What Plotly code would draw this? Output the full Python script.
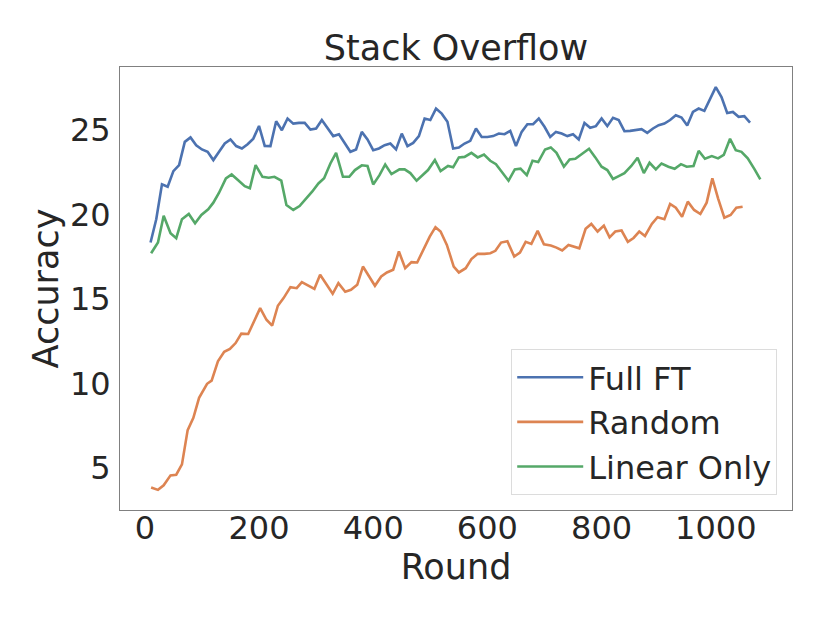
import plotly.graph_objects as go

# ---- data ----
full_rounds = list(range(10, 1061, 10))
full_acc = [18.35, 19.73, 21.8, 21.65, 22.58, 22.93, 24.31, 24.57, 24.11, 23.86,
            23.72, 23.23, 23.72, 24.21, 24.45, 24.06, 23.92, 24.17, 24.5, 25.25,
            24.07, 24.06, 25.53, 25.0, 25.69, 25.39, 25.43, 25.43, 25.04, 25.1,
            25.6, 25.1, 24.65, 24.76, 24.21, 23.72, 23.86, 24.9, 24.45, 23.82,
            23.92, 24.11, 24.21, 23.86, 24.8, 24.06, 24.25, 24.65, 25.69, 25.6,
            26.28, 25.98, 25.5, 23.92, 23.97, 24.21, 24.37, 25.1, 24.6, 24.6,
            24.65, 24.8, 24.76, 24.96, 24.06, 24.9, 25.35, 25.35, 25.69, 25.2,
            24.6, 24.9, 24.8, 24.65, 24.76, 24.45, 25.43, 25.14, 25.24, 25.69,
            25.24, 25.73, 25.6, 24.94, 24.96, 25.0, 25.06, 24.84, 25.1, 25.3,
            25.39, 25.6, 25.88, 25.75, 25.28, 26.08, 26.28, 26.14, 26.8, 27.55,
            26.96, 26.02, 26.08, 25.79, 25.83, 25.45]

random_rounds = [11, 23, 33, 45, 55, 65, 75, 85, 95, 109, 117, 128, 139, 149, 159,
                 169, 181, 191, 202, 213, 223, 233, 243, 255, 266, 275, 286, 297,
                 307, 319, 329, 339, 351, 361, 372, 382, 393, 403, 414, 424, 435,
                 445, 456, 467, 477, 488, 499, 509, 518, 529, 541, 550, 562, 572,
                 583, 595, 605, 614, 624, 635, 647, 657, 667, 677, 688, 699, 711,
                 721, 731, 742, 752, 761, 772, 782, 793, 804, 814, 824, 835, 846,
                 856, 866, 876, 888, 898, 910, 920, 930, 941, 951, 962, 973, 984,
                 994, 1004, 1015, 1026, 1036, 1047]
random_acc = [3.85, 3.71, 3.98, 4.57, 4.61, 5.22, 7.25, 7.98, 9.16, 9.99, 10.18,
              11.32, 11.88, 12.05, 12.4, 12.96, 12.94, 13.69, 14.47, 13.78, 13.43,
              14.61, 15.06, 15.71, 15.65, 16.01, 15.79, 15.61, 16.44, 15.85, 15.32,
              15.95, 15.44, 15.55, 15.85, 16.93, 16.3, 15.79, 16.34, 16.58, 16.74,
              17.82, 16.83, 17.19, 17.17, 17.92, 18.7, 19.26, 19.0, 18.21, 16.93,
              16.58, 16.83, 17.37, 17.68, 17.68, 17.72, 17.86, 18.35, 18.43, 17.52,
              17.76, 18.39, 18.27, 19.04, 18.25, 18.17, 18.05, 17.88, 18.21, 18.11,
              18.01, 19.16, 19.45, 19.0, 19.35, 18.66, 19.0, 19.06, 18.39, 18.62,
              19.0, 18.74, 19.45, 19.85, 19.73, 20.63, 20.41, 19.88, 20.77, 20.28,
              20.04, 20.71, 22.15, 20.97, 19.82, 19.98, 20.41, 20.47]

linear_rounds = [11, 23, 33, 45, 55, 65, 77, 88, 99, 111, 120, 130, 142, 152, 163,
                 175, 184, 194, 206, 217, 227, 239, 248, 260, 271, 283, 293, 304,
                 314, 325, 335, 347, 358, 368, 380, 390, 400, 411, 421, 432, 446,
                 455, 465, 476, 484, 496, 508, 518, 531, 540, 550, 560, 572, 583,
                 594, 605, 615, 627, 637, 648, 658, 669, 679, 689, 701, 711, 721,
                 734, 744, 754, 766, 778, 789, 800, 810, 820, 830, 840, 852, 863,
                 874, 884, 895, 905, 917, 928, 939, 949, 961, 970, 981, 993, 1004,
                 1014, 1025, 1035, 1045, 1056, 1068, 1078]
linear_acc = [17.72, 18.35, 19.94, 18.9, 18.61, 19.73, 20.04, 19.49, 19.98, 20.32,
              20.71, 21.3, 22.15, 22.38, 22.05, 21.69, 21.56, 22.93, 22.24, 22.19,
              22.24, 22.01, 20.57, 20.28, 20.51, 20.97, 21.36, 21.85, 22.15, 23.03,
              23.66, 22.24, 22.24, 22.64, 22.92, 22.88, 21.79, 22.34, 22.97, 22.4,
              22.68, 22.68, 22.46, 22.01, 22.28, 22.64, 23.23, 22.58, 22.88, 22.8,
              23.39, 23.42, 23.66, 23.39, 23.56, 23.19, 22.99, 22.48, 22.01, 22.68,
              22.72, 22.34, 23.19, 23.11, 23.86, 23.98, 23.66, 22.84, 23.27, 23.31,
              23.58, 23.9, 23.39, 22.84, 22.64, 22.11, 22.28, 22.46, 22.88, 23.37,
              22.46, 23.07, 22.68, 23.03, 22.84, 22.72, 22.99, 22.84, 22.88, 23.78,
              23.31, 23.47, 23.33, 23.54, 24.49, 23.82, 23.72, 23.33, 22.68, 22.09]

x_ticks = [0, 200, 400, 600, 800, 1000]
y_ticks = [5, 10, 15, 20, 25]

series_names = ["Full FT", "Random", "Linear Only"]
colors = ["#4c72b0", "#dd8452", "#55a868"]

FONT = "DejaVu Sans"
TXT = "#262626"

fig = go.Figure()
for name, xs, ys, c in zip(series_names,
                           [full_rounds, random_rounds, linear_rounds],
                           [full_acc, random_acc, linear_acc], colors):
    fig.add_trace(go.Scatter(x=xs, y=ys, mode="lines", name=name,
                             line=dict(color=c, width=2.6)))

axis_common = dict(showgrid=False, zeroline=False, showline=True, mirror=True,
                   linecolor="#808080", linewidth=1, ticks="",
                   tickfont=dict(family=FONT, size=32, color=TXT))

# the page body has an 8px margin, so the figure is offset by 8px
fig.update_layout(
    width=830, height=623,
    margin=dict(l=112, r=46, t=59, b=121, pad=0),
    paper_bgcolor="white", plot_bgcolor="white",
    font=dict(family=FONT, color=TXT),
    title=dict(text="Stack Overflow", x=(456 - 8) / 830, xanchor="center",
               y=1 - 40 / 623, yanchor="middle", yref="container",
               font=dict(family=FONT, size=35, color=TXT)),
    xaxis=dict(range=[-43.5, 1133.5], tickvals=x_ticks,
               ticktext=[str(v) for v in x_ticks], ticklabelstandoff=-10,
               title=dict(text="Round", standoff=0,
                          font=dict(family=FONT, size=35, color=TXT)),
               **axis_common),
    yaxis=dict(range=[2.52, 28.74], tickvals=y_ticks,
               ticktext=[str(v) for v in y_ticks], ticklabelstandoff=2,
               title=dict(text="Accuracy", standoff=0,
                          font=dict(family=FONT, size=35, color=TXT)),
               **axis_common),
    legend=dict(x=0.978, y=0.034, xanchor="right", yanchor="bottom",
                bgcolor="white", bordercolor="#dcdcdc", borderwidth=1,
                font=dict(family=FONT, size=32, color=TXT),
                itemwidth=66, tracegroupgap=0),
    showlegend=True,
)

fig.write_html("out.html")
